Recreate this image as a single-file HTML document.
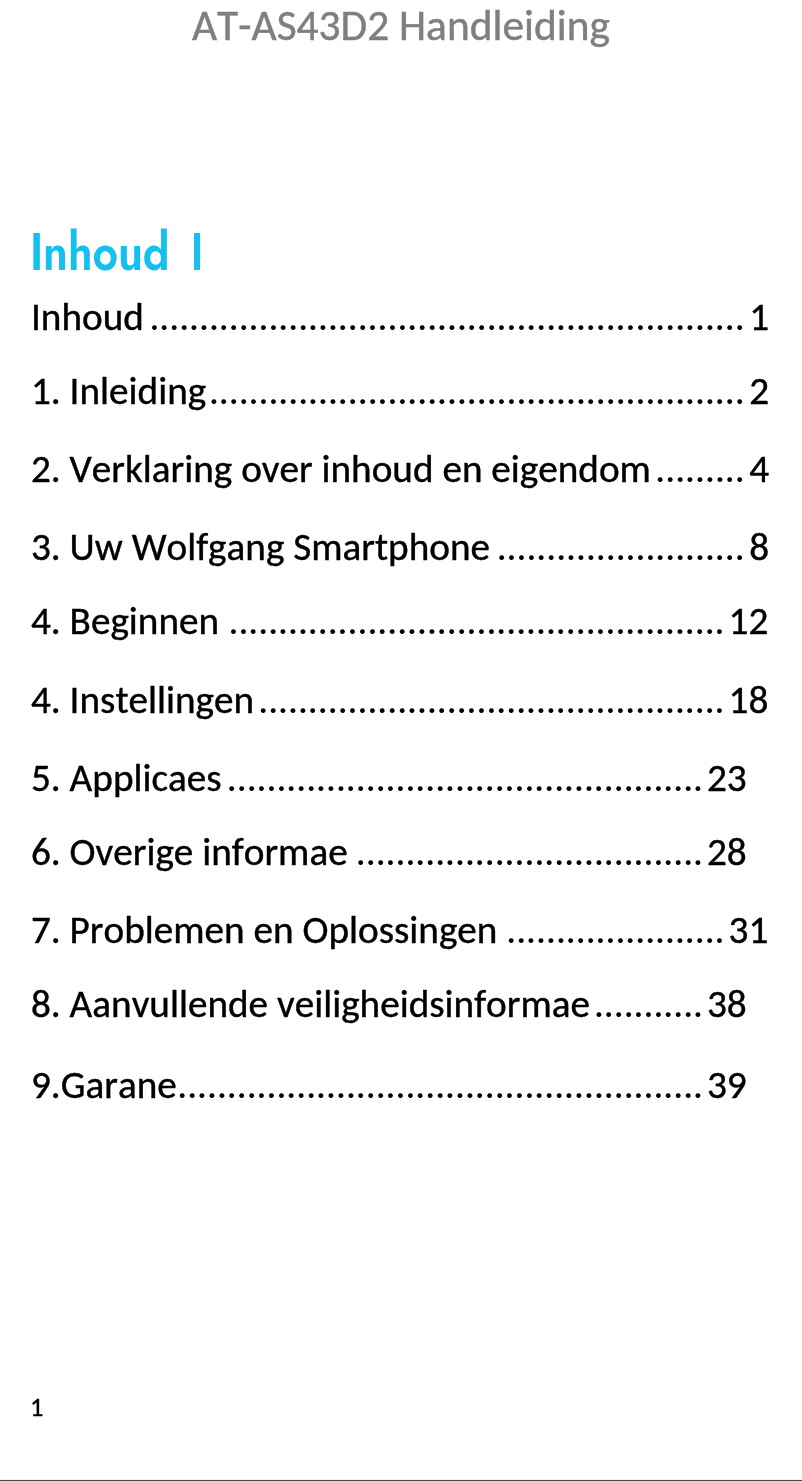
<!DOCTYPE html>
<html lang="nl">
<head>
<meta charset="utf-8">
<title>AT-AS43D2 Handleiding</title>
<style>
html,body{margin:0;padding:0;background:#fff;}
body{width:802px;height:1481px;position:relative;overflow:hidden;
  font-family:"Carlito","Liberation Sans",sans-serif;color:#000;font-kerning:none;}
.hdr{will-change:transform;-webkit-text-stroke:0.45px #7f7f7f;position:absolute;left:191.7px;top:4.2px;font-size:43.4px;line-height:1;color:#7f7f7f;white-space:nowrap;}
.h1{position:absolute;left:30px;top:226.4px;font-family:"Jost","Liberation Sans",sans-serif;font-weight:620;letter-spacing:-0.1px;
  font-size:52.3px;line-height:1;color:#14c0ef;white-space:nowrap;transform-origin:0 0;transform:scaleX(0.851);filter:blur(0.3px);}
.bar{position:absolute;left:193.8px;top:233.3px;width:5.9px;height:36.3px;background:#14c0ef;filter:blur(0.3px);}
.r{will-change:transform;position:absolute;left:31px;-webkit-text-stroke:0.4px #000;width:760px;height:39.3px;white-space:nowrap;font-size:39.3px;line-height:1;}
.r span{position:absolute;top:0;}
.r .t{left:0;}
.r .d{-webkit-text-stroke:0.15px #000;}
.pg{will-change:transform;-webkit-text-stroke:0.3px #000;position:absolute;left:29.8px;top:1394px;font-size:26.5px;line-height:1;}
.line{position:absolute;left:0;top:1479px;width:802px;height:1px;background:#f2f2f3;}
.line2{position:absolute;left:0;top:1480px;width:802px;height:1px;background:#45484e;}
</style>
</head>
<body>
<div class="hdr">AT-AS43D2 Handleiding</div>
<div class="h1">Inhoud</div>
<div class="bar"></div>
<div class="r" style="top:298.42px"><span class="t" style="font-size:39.2px">Inhoud</span><span class="d" style="left:118.39px">............................................................</span><span class="n" style="left:718.28px">1</span></div>
<div class="r" style="top:371.72px"><span class="t" style="font-size:39.2px">1. Inleiding</span><span class="d" style="left:177.92px">......................................................</span><span class="n" style="left:718.28px">2</span></div>
<div class="r" style="top:450.12px"><span class="t" style="font-size:39.2px">2. Verklaring over inhoud en eigendom</span><span class="d" style="left:624.36px">.........</span><span class="n" style="left:718.28px">4</span></div>
<div class="r" style="top:527.72px"><span class="t" style="font-size:39.2px">3. Uw Wolfgang Smartphone</span><span class="d" style="left:465.63px">.........................</span><span class="n" style="left:718.28px">8</span></div>
<div class="r" style="top:602.22px"><span class="t" style="font-size:39.2px">4. Beginnen</span><span class="d" style="left:197.50px">..................................................</span><span class="n" style="left:697.56px">12</span></div>
<div class="r" style="top:680.72px"><span class="t" style="font-size:39.2px">4. Instellingen</span><span class="d" style="left:227.27px">...............................................</span><span class="n" style="left:697.56px">18</span></div>
<div class="r" style="top:758.82px"><span class="t" style="font-size:39.2px">5. Applicaes</span><span class="d" style="left:195.84px">................................................</span><span class="n" style="left:675.96px">23</span></div>
<div class="r" style="top:832.62px"><span class="t" style="font-size:39.2px">6. Overige informae</span><span class="d" style="left:324.82px">...................................</span><span class="n" style="left:675.96px">28</span></div>
<div class="r" style="top:911.12px"><span class="t" style="font-size:39.2px">7. Problemen en Oplossingen</span><span class="d" style="left:475.29px">......................</span><span class="n" style="left:697.56px">31</span></div>
<div class="r" style="top:984.82px"><span class="t" style="font-size:39.2px">8. Aanvullende veiligheidsinformae</span><span class="d" style="left:562.92px">...........</span><span class="n" style="left:675.96px">38</span></div>
<div class="r" style="top:1066.12px"><span class="t" style="font-size:39.2px">9.Garane</span><span class="d" style="left:146.24px">.....................................................</span><span class="n" style="left:675.96px">39</span></div>
<div class="pg">1</div>
<div class="line"></div>
<div class="line2"></div>
</body>
</html>
